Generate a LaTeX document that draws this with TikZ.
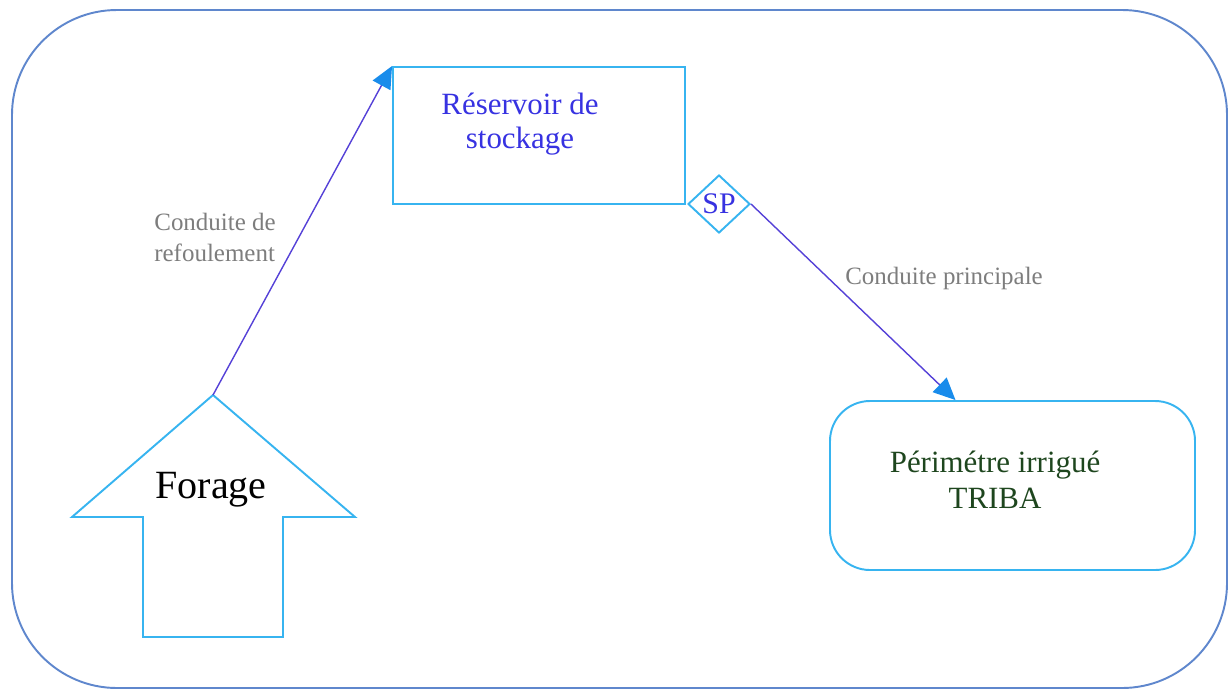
\documentclass[tikz,border=0pt]{standalone}
\usepackage{fontspec}
\setmainfont{Liberation Serif}
\usetikzlibrary{shapes.geometric,arrows.meta}

\definecolor{cadre}{RGB}{95,135,205}
\definecolor{cyanbord}{RGB}{55,180,240}
\definecolor{conduite}{RGB}{85,65,215}
\definecolor{pointe}{RGB}{25,140,235}
\definecolor{texteBleu}{RGB}{55,50,225}
\definecolor{texteVert}{RGB}{30,70,30}
\definecolor{texteGris}{RGB}{125,125,125}

\tikzset{
  boite/.style={draw=cyanbord, line width=1.1pt, inner sep=0pt},
  tuyau/.style={draw=conduite, line width=0.8pt,
    -{Triangle[length=4.4mm, width=4mm, color=pointe]}},
  etiquette/.style={text=texteGris, font=\fontsize{14.2}{17.6}\selectfont, align=left},
}

\begin{document}
\begin{tikzpicture}[x=0.2mm, y=-0.2mm]
    \useasboundingbox (0,0) rectangle (1229,689);

    % cadre extérieur
    \draw[cadre, line width=1.1pt, rounded corners=21mm] (12,10) rectangle (1227,688);

    % forage (flèche vers le haut)
    \draw[cyanbord, line width=1.1pt] (213,395) -- (355,517) -- (283,517) -- (283,637)
        -- (143,637) -- (143,517) -- (72,517) -- cycle;
    \coordinate (pompe) at (213,395);
    \node (forage) at (211,490) {\fontsize{22.8}{26}\selectfont Forage};

    % réservoir de stockage
    \node[boite, minimum width=58.4mm, minimum height=27.4mm] (reservoir) at (539,135.5) {};
    \node[text=texteBleu, align=center, font=\fontsize{17.6}{19.3}\selectfont] (nomReservoir)
        at (520,124) {Réservoir de\\stockage};

    % station de pompage SP
    \node[boite, diamond, minimum width=12.4mm, minimum height=11.6mm, fill=white,
        text=texteBleu, font=\fontsize{17}{19}\selectfont] (sp) at (719,204) {SP};

    % périmètre irrigué
    \node[boite, rounded corners=8mm, minimum width=73mm, minimum height=33.8mm]
        (perimetre) at (1012.5,485.5) {};
    \node[text=texteVert, align=center, font=\fontsize{17.6}{20.5}\selectfont] (nomPerimetre)
        at (995,480) {Périmétre irrigué\\TRIBA};

    % conduites
    \draw[tuyau] (pompe) -- (reservoir.north west);
    \draw[tuyau] (sp.east) -- ([xshift=-11.4mm]perimetre.north);

    \node[etiquette] (refoulement) at (215,237) {Conduite de\\refoulement};
    \node[etiquette] (principale) at (944,278) {Conduite principale};
\end{tikzpicture}
\end{document}
